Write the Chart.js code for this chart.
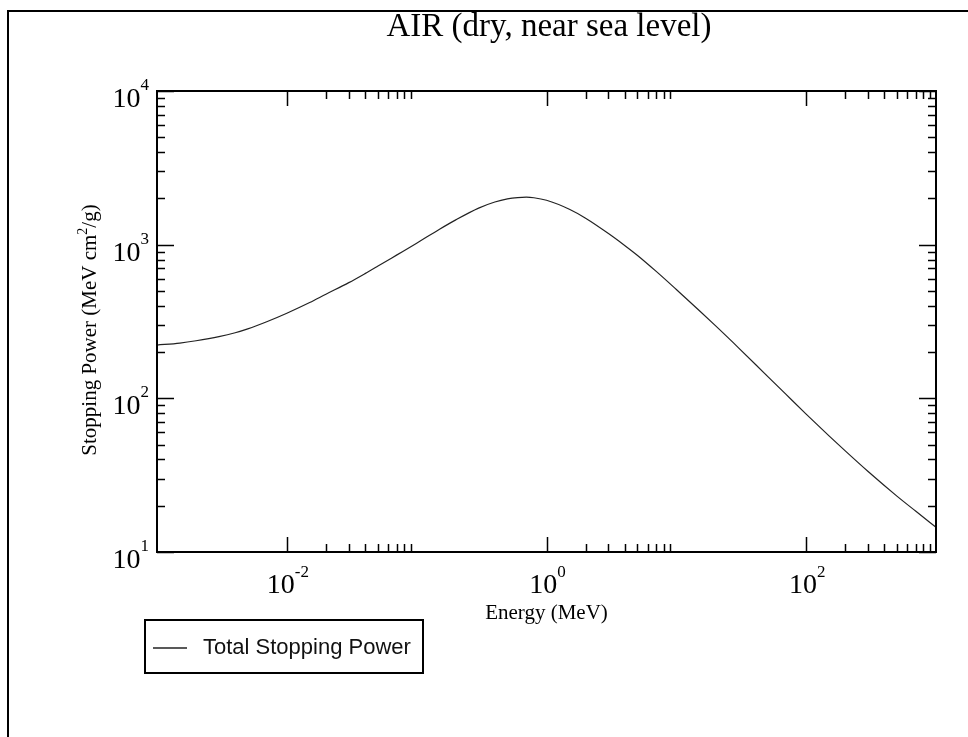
<!DOCTYPE html>
<html>
<head>
<meta charset="utf-8">
<title>AIR (dry, near sea level)</title>
<script src="https://cdn.jsdelivr.net/npm/chart.js@4.4.1/dist/chart.umd.min.js"></script>
<style>
  html, body { margin: 0; padding: 0; background: #fff; overflow: hidden; }
  #chart { display: block; }
</style>
</head>
<body>
<canvas id="chart" width="968" height="737"></canvas>
<script>
// Energy (MeV) and total stopping power (MeV cm2/g)
const energies = [0.001, 0.0015, 0.002, 0.003, 0.004, 0.005, 0.007, 0.01, 0.015, 0.02,
    0.03, 0.04, 0.05, 0.07, 0.1, 0.15, 0.2, 0.3, 0.4, 0.5,
    0.6, 0.7, 0.8, 1, 1.5, 2, 3, 4, 5, 7,
    10, 15, 20, 30, 50, 70, 100, 150, 200, 300,
    500, 700, 1000]
const stoppingPower = [222, 229, 237, 252, 267, 283, 315, 358, 420, 476,
    566, 648, 723, 855, 1022, 1260, 1450, 1730, 1895, 1985,
    2025, 2037, 2020, 1945, 1700, 1487, 1182, 989, 854, 670,
    511, 373, 297, 214, 140, 106, 79, 57, 45.5, 33.4,
    23.1, 18.4, 14.5]

// Tick labels are powers of ten
const xTickExponents = [-2, 0, 2]
const yTickExponents = [1, 2, 3, 4]
const minorSteps = [2, 3, 4, 5, 6, 7, 8, 9]

const titleText = 'AIR (dry, near sea level)'
const xTitle = 'Energy (MeV)'
const yTitle = ['Stopping Power (MeV cm', '2', '/g)']
const seriesLabel = 'Total Stopping Power'

const serif = '"Liberation Serif", "Times New Roman", serif'
const sans = '"Liberation Sans", Arial, sans-serif'

function drawPower(ctx, exp, x, y, expY, align) {
    ctx.font = `28px ${serif}`
    const wBase = ctx.measureText('10').width
    ctx.font = `17px ${serif}`
    const wExp = ctx.measureText(String(exp)).width
    const total = wBase + wExp
    const start = align === 'center' ? x - total / 2 : x - total
    ctx.textAlign = 'left'
    ctx.font = `28px ${serif}`
    ctx.fillText('10', start, y)
    ctx.font = `17px ${serif}`
    ctx.fillText(String(exp), start + wBase, expY)
}

const graceAxes = {
    id: 'graceAxes',
    afterDraw(chart) {
        const { ctx, chartArea: a, scales } = chart
        const xs = scales.x
        const ys = scales.y
        ctx.save()
        ctx.fillStyle = '#000'
        ctx.strokeStyle = '#000'
        ctx.textBaseline = 'alphabetic'

        // page frame
        ctx.lineWidth = 2
        ctx.strokeRect(8, 11, 1100, 1000)

        // plot frame
        ctx.strokeRect(a.left, a.top, a.right - a.left, a.bottom - a.top)

        // inward ticks, mirrored on all four sides
        ctx.lineWidth = 1.5
        const xTick = (v, len) => {
            const px = Math.round(xs.getPixelForValue(v)) + 0.5
            ctx.beginPath()
            ctx.moveTo(px, a.bottom); ctx.lineTo(px, a.bottom - len)
            ctx.moveTo(px, a.top); ctx.lineTo(px, a.top + len)
            ctx.stroke()
        }
        const yTick = (v, len) => {
            const py = Math.round(ys.getPixelForValue(v)) + 0.5
            ctx.beginPath()
            ctx.moveTo(a.left, py); ctx.lineTo(a.left + len, py)
            ctx.moveTo(a.right, py); ctx.lineTo(a.right - len, py)
            ctx.stroke()
        }
        xTickExponents.forEach(e => {
            const base = Math.pow(10, e)
            xTick(base, 15)
            minorSteps.forEach(m => xTick(base * m, 8))
        })
        yTickExponents.forEach(e => {
            const base = Math.pow(10, e)
            yTick(base, 17)
            if (e < 4) minorSteps.forEach(m => yTick(base * m, 8))
        })

        // tick labels
        xTickExponents.forEach(e => {
            const px = xs.getPixelForValue(Math.pow(10, e))
            drawPower(ctx, e, px + 1, a.bottom + 41, a.bottom + 25, 'center')
        })
        yTickExponents.forEach(e => {
            const py = ys.getPixelForValue(Math.pow(10, e))
            drawPower(ctx, e, a.left - 8, py + 16, py - 1, 'right')
        })

        // title
        ctx.font = `33px ${serif}`
        ctx.textAlign = 'center'
        ctx.fillText(titleText, 549, 36)

        // axis titles
        ctx.font = `21px ${serif}`
        ctx.fillText(xTitle, (a.left + a.right) / 2, 619)

        ctx.save()
        ctx.translate(96, 330)
        ctx.rotate(-Math.PI / 2)
        ctx.font = `21px ${serif}`
        const w0 = ctx.measureText(yTitle[0]).width
        const w2 = ctx.measureText(yTitle[2]).width
        ctx.font = `14px ${serif}`
        const w1 = ctx.measureText(yTitle[1]).width
        let sx = -(w0 + w1 + w2) / 2
        ctx.textAlign = 'left'
        ctx.font = `21px ${serif}`
        ctx.fillText(yTitle[0], sx, 0)
        ctx.font = `14px ${serif}`
        ctx.fillText(yTitle[1], sx + w0, -9)
        ctx.font = `21px ${serif}`
        ctx.fillText(yTitle[2], sx + w0 + w1, 0)
        ctx.restore()

        // legend
        const ds = chart.data.datasets[0]
        ctx.lineWidth = 2
        ctx.strokeRect(145, 620, 278, 53)
        ctx.strokeStyle = ds.borderColor
        ctx.lineWidth = 1.5
        ctx.beginPath()
        ctx.moveTo(153, 648); ctx.lineTo(187, 648)
        ctx.stroke()
        ctx.font = `22px ${sans}`
        ctx.textAlign = 'left'
        ctx.fillStyle = '#111'
        ctx.fillText(ds.label, 203, 654)

        ctx.restore()
    }
}

new Chart(document.getElementById('chart'), {
    type: 'scatter',
    data: {
        datasets: [{
            label: seriesLabel,
            data: energies.map((e, i) => ({ x: e, y: stoppingPower[i] })),
            showLine: true,
            borderColor: '#222',
            borderWidth: 1.2,
            pointRadius: 0,
            cubicInterpolationMode: 'monotone'
        }]
    },
    options: {
        responsive: false,
        animation: false,
        layout: { padding: { left: 157, right: 32, top: 91, bottom: 185 } },
        plugins: {
            legend: { display: false },
            title: { display: false },
            tooltip: { enabled: false }
        },
        scales: {
            x: { type: 'logarithmic', min: 0.001, max: 1000, display: false },
            y: { type: 'logarithmic', min: 10, max: 10000, display: false }
        }
    },
    plugins: [graceAxes]
})
</script>
</body>
</html>
